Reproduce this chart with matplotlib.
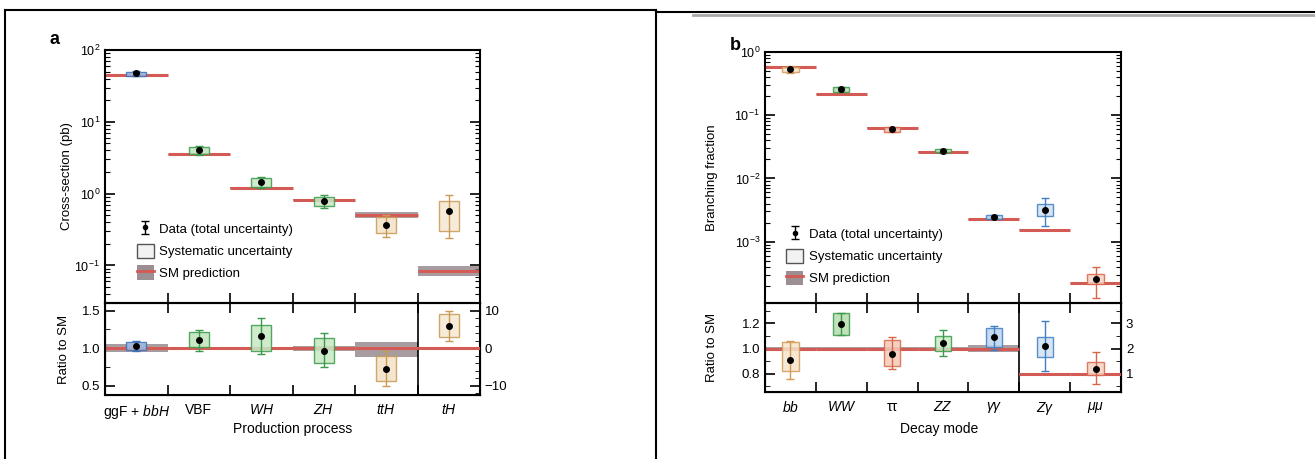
import numpy as np
import matplotlib
matplotlib.use('Agg')
import matplotlib.pyplot as plt
from matplotlib.lines import Line2D
from matplotlib.patches import Patch
from matplotlib.legend_handler import HandlerTuple
from matplotlib.ticker import MultipleLocator, LogLocator, NullFormatter, FormatStrFormatter

plt.rcParams['font.family'] = ['Liberation Sans', 'DejaVu Sans']
plt.rcParams['mathtext.fontset'] = 'custom'
plt.rcParams['mathtext.it'] = 'Liberation Sans:italic'
plt.rcParams['mathtext.rm'] = 'Liberation Sans'

# ---- panel a: production processes ----
prod_labels = ['ggF + $bb H$', 'VBF', '$WH$', '$ZH$', '$ttH$', '$tH$']
prod_xs = [47.1, 4.0, 1.45, 0.79, 0.37, 0.58]
prod_xs_up = [3.9, 0.6, 0.28, 0.18, 0.13, 0.37]
prod_xs_dn = [3.8, 0.55, 0.25, 0.16, 0.12, 0.34]
prod_xs_syst_up = [3.0, 0.45, 0.2, 0.12, 0.10, 0.22]
prod_xs_syst_dn = [3.0, 0.45, 0.2, 0.12, 0.09, 0.28]
prod_sm = [44.7, 3.52, 1.2, 0.82, 0.51, 0.085]
prod_sm_rel = [0.05, 0.02, 0.02, 0.03, 0.10, 0.15]

prod_ratio = [1.03, 1.11, 1.16, 0.97, 0.73]
prod_ratio_up = [0.06, 0.13, 0.24, 0.23, 0.24]
prod_ratio_dn = [0.06, 0.14, 0.23, 0.22, 0.23]
prod_ratio_syst_up = [0.05, 0.10, 0.15, 0.17, 0.17]
prod_ratio_syst_dn = [0.05, 0.10, 0.20, 0.17, 0.17]
prod_sm_band_up = [0.05, 0.02, 0.02, 0.03, 0.08]
prod_sm_band_dn = [0.05, 0.02, 0.02, 0.03, 0.12]
# tH ratio is read on the right-hand scale
th_ratio, th_up, th_dn, th_syst_up, th_syst_dn = 6.0, 4.0, 4.0, 3.0, 3.0

prod_colors = ['#3f6fb5', '#3a9a4a', '#3a9a4a', '#3a9a4a', '#c99a55', '#c99a55']
prod_fills = ['#9dbbe6', '#bfe3bb', '#c8e8c4', '#c8e8c4', '#f3e2c6', '#f5e8d2']

# ---- panel b: decay modes ----
decay_labels = ['$bb$', '$WW$', 'ττ', '$ZZ$', '$\\gamma\\gamma$', '$Z\\gamma$', '$\\mu\\mu$']
decay_br = [0.53, 0.257, 0.060, 0.0273, 0.00247, 0.0032, 2.6e-4]
decay_br_up = [0.06, 0.025, 0.006, 0.002, 0.0002, 0.0017, 1.3e-4]
decay_br_dn = [0.06, 0.025, 0.006, 0.002, 0.0002, 0.0014, 1.3e-4]
decay_br_syst = [0.05, 0.02, 0.005, 0.0015, 0.00015, 0.0007, 0.5e-4]
decay_sm = [0.582, 0.214, 0.0627, 0.0262, 0.00227, 0.00154, 2.18e-4]

decay_ratio = [0.91, 1.19, 0.96, 1.04, 1.09]
decay_ratio_up = [0.15, 0.09, 0.13, 0.11, 0.09]
decay_ratio_dn = [0.15, 0.08, 0.12, 0.10, 0.10]
decay_ratio_syst_up = [0.14, 0.09, 0.11, 0.06, 0.07]
decay_ratio_syst_dn = [0.09, 0.08, 0.10, 0.06, 0.08]
decay_sm_band = [0.012, 0.012, 0.012, 0.012, 0.03]
# Z-gamma and mu-mu ratios are read on the right-hand scale
rare_ratio = [2.1, 1.2]
rare_up = [1.0, 0.65]
rare_dn = [1.0, 0.6]
rare_syst_up = [0.35, 0.25]
rare_syst_dn = [0.45, 0.25]
rare_sm_band = [0.05, 0.03]

decay_colors = ['#d29a55', '#3a9a4a', '#d9664a', '#3a9a4a', '#3f7fc1', '#3f7fc1', '#d9664a']
decay_fills = ['#f6e4cc', '#b5ddb0', '#f4c9b8', '#cbe9c6', '#bcd4ef', '#cfe0f3', '#f6d3c4']

SM_RED = '#d45a55'
SM_GREY = '#8a7b80'
W, H = 1315, 459


def rect(x0, y0, x1, y1):
    return [x0 / W, 1 - y1 / H, (x1 - x0) / W, (y1 - y0) / H]


def draw_points(ax, xs, vals, up, dn, sup, sdn, colors, fills):
    vals = np.asarray(vals); sup = np.asarray(sup); sdn = np.asarray(sdn)
    ax.bar(xs, sup + sdn, bottom=vals - sdn, width=0.32, color=fills,
           edgecolor=colors, linewidth=1.0, alpha=0.85, zorder=3)
    for x, v, u, d, c in zip(xs, vals, up, dn, colors):
        ax.errorbar([x], [v], yerr=[[d], [u]], fmt='none', ecolor=c,
                    elinewidth=1.0, capsize=3, capthick=1.0, zorder=4)
    ax.plot(xs, vals, 'o', color='k', ms=4, zorder=5)


def draw_sm(ax, i, sm, lo, hi):
    ax.fill_between([i, i + 1], [sm - lo] * 2, [sm + hi] * 2, color=SM_GREY,
                    alpha=0.75, lw=0, zorder=2)
    ax.hlines(sm, i, i + 1, color=SM_RED, lw=2.2, zorder=2.5)


def style_log(ax):
    ax.set_yscale('log')
    ax.yaxis.set_minor_locator(LogLocator(base=10, subs=np.arange(2, 10)))
    ax.yaxis.set_minor_formatter(NullFormatter())
    ax.tick_params(axis='y', which='both', direction='in', left=True, right=True, labelsize=9)
    ax.tick_params(axis='y', which='major', length=7, width=1.2)
    ax.tick_params(axis='y', which='minor', length=3.5, width=0.8)


def style_bins(ax, n, labels=None):
    ax.set_xlim(0, n)
    ax.set_xticks(np.arange(1, n))
    ax.set_xticklabels([])
    ax.tick_params(axis='x', which='major', direction='in', length=7, width=1.2,
                   top=True, bottom=True)
    if labels is not None:
        ax.set_xticks(np.arange(n) + 0.5, minor=True)
        ax.set_xticklabels(labels, minor=True, fontsize=10)
        ax.tick_params(axis='x', which='minor', length=0, pad=6)
    for s in ax.spines.values():
        s.set_linewidth(1.5)


def legend(ax, anchor):
    eb = ax.errorbar([np.nan], [np.nan], yerr=[[1], [1]], fmt='o', color='k',
                     ms=3, capsize=3, elinewidth=1)
    handles = [eb, Patch(facecolor='#f2f2f2', edgecolor='#555555', lw=1.0),
               (Patch(facecolor=SM_GREY, alpha=0.85), Line2D([], [], color=SM_RED, lw=2.0))]
    labels = ['Data (total uncertainty)', 'Systematic uncertainty', 'SM prediction']
    ax.legend(handles, labels, loc='lower left', bbox_to_anchor=anchor, frameon=False,
              fontsize=9.5, handlelength=1.3, handleheight=1.3, handletextpad=0.4,
              labelspacing=0.55, borderaxespad=0,
              handler_map={tuple: HandlerTuple(ndivide=1)})


fig = plt.figure(figsize=(W / 100, H / 100), dpi=100)

# ---------- panel a ----------
n_p = len(prod_labels)
xs_p = np.arange(n_p) + 0.5
ax_a = fig.add_axes(rect(105, 50, 480, 303))
ax_ar = fig.add_axes(rect(105, 303, 480, 395))

style_log(ax_a)
for i in range(n_p):
    draw_sm(ax_a, i, prod_sm[i], prod_sm[i] * prod_sm_rel[i], prod_sm[i] * prod_sm_rel[i])
draw_points(ax_a, xs_p, prod_xs, prod_xs_up, prod_xs_dn, prod_xs_syst_up, prod_xs_syst_dn,
            prod_colors, prod_fills)
ax_a.set_ylim(0.03, 100)
style_bins(ax_a, n_p)
ax_a.tick_params(axis='x', top=False)
ax_a.set_ylabel('Cross-section (pb)', fontsize=9.5)
ax_a.yaxis.set_label_coords(-0.085, 0.5)
legend(ax_a, (0.07, 0.07))

for i in range(n_p - 1):
    draw_sm(ax_ar, i, 1.0, prod_sm_band_dn[i], prod_sm_band_up[i])
draw_points(ax_ar, xs_p[:-1], prod_ratio, prod_ratio_up, prod_ratio_dn,
            prod_ratio_syst_up, prod_ratio_syst_dn, prod_colors[:-1], prod_fills[:-1])
ax_ar.set_ylim(0.38, 1.6)
ax_ar.yaxis.set_major_locator(MultipleLocator(0.5))
ax_ar.yaxis.set_minor_locator(MultipleLocator(0.25))
ax_ar.yaxis.set_major_formatter(FormatStrFormatter('%.1f'))
ax_ar.tick_params(axis='y', which='both', direction='in', right=False, labelsize=9.5)
ax_ar.tick_params(axis='y', which='major', length=7, width=1.2)
ax_ar.tick_params(axis='y', which='minor', length=3.5)
style_bins(ax_ar, n_p, prod_labels)
ax_ar.axvline(n_p - 1, color='k', lw=1.2)
ax_ar.set_ylabel('Ratio to SM', fontsize=9.5)
ax_ar.yaxis.set_label_coords(-0.093, 0.5)
ax_ar.set_xlabel('Production process', fontsize=10)
ax_ar.xaxis.set_label_coords(0.5, -0.29)

ax_at = ax_ar.twinx()
draw_sm(ax_at, n_p - 1, 0.0, 0.3, 0.3)
draw_points(ax_at, [xs_p[-1]], [th_ratio], [th_up], [th_dn], [th_syst_up], [th_syst_dn],
            [prod_colors[-1]], [prod_fills[-1]])
ax_at.set_ylim(-12.4, 12.0)
ax_at.set_xlim(0, n_p)
ax_at.yaxis.set_major_locator(MultipleLocator(10))
ax_at.yaxis.set_minor_locator(MultipleLocator(2))
ax_at.tick_params(axis='y', which='both', direction='in', labelsize=9.5)
ax_at.tick_params(axis='y', which='major', length=7, width=1.2)
ax_at.tick_params(axis='y', which='minor', length=3.5)

# ---------- panel b ----------
n_d = len(decay_labels)
xs_d = np.arange(n_d) + 0.5
ax_b = fig.add_axes(rect(765, 52, 1121, 303))
ax_br = fig.add_axes(rect(765, 303, 1121, 392))

style_log(ax_b)
for i in range(n_d):
    draw_sm(ax_b, i, decay_sm[i], decay_sm[i] * 0.02, decay_sm[i] * 0.02)
bs = np.asarray(decay_br_syst)
draw_points(ax_b, xs_d, decay_br, decay_br_up, decay_br_dn, bs, bs, decay_colors, decay_fills)
ax_b.set_ylim(1.07e-4, 1.0)
style_bins(ax_b, n_d)
ax_b.tick_params(axis='x', top=False)
ax_b.set_ylabel('Branching fraction', fontsize=9.5)
ax_b.yaxis.set_label_coords(-0.132, 0.5)
legend(ax_b, (0.045, 0.05))

for i in range(n_d - 2):
    draw_sm(ax_br, i, 1.0, decay_sm_band[i], decay_sm_band[i])
draw_points(ax_br, xs_d[:-2], decay_ratio, decay_ratio_up, decay_ratio_dn,
            decay_ratio_syst_up, decay_ratio_syst_dn, decay_colors[:-2], decay_fills[:-2])
ax_br.set_ylim(0.656, 1.36)
ax_br.yaxis.set_major_locator(MultipleLocator(0.2))
ax_br.yaxis.set_minor_locator(MultipleLocator(0.1))
ax_br.yaxis.set_major_formatter(FormatStrFormatter('%.1f'))
ax_br.tick_params(axis='y', which='both', direction='in', right=False, labelsize=9.5)
ax_br.tick_params(axis='y', which='major', length=7, width=1.2)
ax_br.tick_params(axis='y', which='minor', length=3.5)
style_bins(ax_br, n_d, decay_labels)
ax_br.axvline(n_d - 2, color='k', lw=1.2)
ax_br.set_ylabel('Ratio to SM', fontsize=9.5)
ax_br.yaxis.set_label_coords(-0.132, 0.5)
ax_br.set_xlabel('Decay mode', fontsize=10)
ax_br.xaxis.set_label_coords(0.49, -0.34)

ax_bt = ax_br.twinx()
for j in range(2):
    draw_sm(ax_bt, n_d - 2 + j, 1.0, rare_sm_band[j], rare_sm_band[j])
draw_points(ax_bt, xs_d[-2:], rare_ratio, rare_up, rare_dn, rare_syst_up, rare_syst_dn,
            decay_colors[-2:], decay_fills[-2:])
ax_bt.set_ylim(0.28, 3.8)
ax_bt.set_xlim(0, n_d)
ax_bt.yaxis.set_major_locator(MultipleLocator(1))
ax_bt.yaxis.set_minor_locator(MultipleLocator(0.5))
ax_bt.tick_params(axis='y', which='both', direction='in', labelsize=9.5)
ax_bt.tick_params(axis='y', which='major', length=7, width=1.2)
ax_bt.tick_params(axis='y', which='minor', length=3.5)

# panel letters
fig.text(55 / W, 1 - 40 / H, 'a', fontsize=13, fontweight='bold', ha='center', va='center')
fig.text(735 / W, 1 - 45 / H, 'b', fontsize=13, fontweight='bold', ha='center', va='center')

# table-like frame around the two panels
def fline(x0, y0, x1, y1, color='k', lw=1.5):
    fig.add_artist(Line2D([x0 / W, x1 / W], [1 - y0 / H, 1 - y1 / H],
                          transform=fig.transFigure, color=color, lw=lw))

fline(5, 10, 656, 10)
fline(5, 10, 5, 459)
fline(656, 10, 656, 459)
fline(656, 12, 1315, 12)
fline(693, 15, 1315, 15, color='#aaaaaa', lw=2)

plt.savefig('out.png', dpi=100)
